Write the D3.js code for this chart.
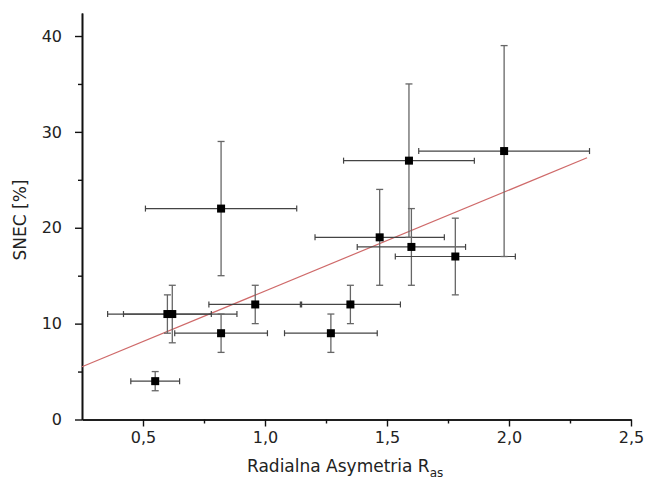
<!DOCTYPE html>
<html>
<head>
<meta charset="utf-8">
<script src="https://cdn.jsdelivr.net/npm/d3@7"></script>
<style>
  html, body { margin: 0; padding: 0; background: #fff; }
  svg { display: block; }
  text { font-family: "DejaVu Sans", sans-serif; fill: #222; }
</style>
</head>
<body>
<script>
// ---- data ----
const xValues  = [0.55, 0.60, 0.62, 0.82, 0.82, 0.96, 1.27, 1.35, 1.47, 1.59, 1.60, 1.78, 1.98];
const yValues  = [4,    11,   11,   22,   9,    12,   9,    12,   19,   27,   18,   17,   28];
const xErrors  = [0.10, 0.18, 0.265,0.31, 0.19, 0.19, 0.19, 0.205,0.265,0.268,0.222,0.246,0.35];
const yErrors  = [1,    2,    3,    7,    2,    2,    2,    2,    5,    8,    4,    4,    11];
const fitIntercept = 2.87;
const fitSlope = 10.53;
const fitRange = [0.25, 2.32];
const xMajorTicks = [0.5, 1.0, 1.5, 2.0, 2.5];
const xMinorTicks = [0.75, 1.25, 1.75, 2.25];
const yMajorTicks = [0, 10, 20, 30, 40];
const yMinorTicks = [5, 15, 25, 35];
const xTitle = "Radialna Asymetria R";
const xTitleSub = "as";
const yTitle = "SNEC [%]";

// ---- layout ----
const W = 657, H = 479;
const svg = d3.select("body").append("svg").attr("width", W).attr("height", H);

const x = d3.scaleLinear().domain([0.25, 2.5]).range([82, 631]);
const y = d3.scaleLinear().domain([0, 42.4]).range([419.5, 13]);
const fmt = d => d3.format(".1f")(d).replace(".", ",");

// axes
const xAxis = svg.append("g").attr("transform", `translate(0,${y(0)})`)
  .call(d3.axisBottom(x).tickValues(xMajorTicks).tickFormat(fmt).tickSize(7).tickPadding(5).tickSizeOuter(0));
const xMinor = svg.append("g").attr("transform", `translate(0,${y(0)})`)
  .call(d3.axisBottom(x).tickValues(xMinorTicks).tickFormat("").tickSize(4).tickSizeOuter(0));
const yAxis = svg.append("g").attr("transform", `translate(${x(0.25)},0)`)
  .call(d3.axisLeft(y).tickValues(yMajorTicks).tickFormat(d3.format("d")).tickSize(7).tickPadding(13).tickSizeOuter(0));
const yMinor = svg.append("g").attr("transform", `translate(${x(0.25)},0)`)
  .call(d3.axisLeft(y).tickValues(yMinorTicks).tickFormat("").tickSize(4).tickSizeOuter(0));

[xAxis, xMinor, yAxis, yMinor].forEach(g => {
  g.select(".domain").attr("stroke", "#111").attr("stroke-width", 1.6);
  g.selectAll(".tick line").attr("stroke", "#111").attr("stroke-width", 1.4);
  g.selectAll(".tick text").attr("font-size", 16).attr("fill", "#222")
    .attr("font-family", "'DejaVu Sans', sans-serif");
});

// titles
const xt = svg.append("text").attr("x", 247).attr("y", 472).attr("font-size", 17);
xt.append("tspan").text(xTitle);
xt.append("tspan").attr("font-size", 12).attr("dy", 5).text(xTitleSub);

svg.append("text")
  .attr("transform", `translate(26,220) rotate(-90)`)
  .attr("text-anchor", "middle").attr("font-size", 17).text(yTitle);

// fit line
svg.append("line")
  .attr("x1", x(fitRange[0])).attr("y1", y(fitIntercept + fitSlope * fitRange[0]))
  .attr("x2", x(fitRange[1])).attr("y2", y(fitIntercept + fitSlope * fitRange[1]))
  .attr("stroke", "#cf6a6a").attr("stroke-width", 1.2);

// data with error bars
const pts = xValues.map((v, i) => ({ x: v, y: yValues[i], ex: xErrors[i], ey: yErrors[i] }));
const g = svg.append("g");
const cap = 3;
pts.forEach(p => {
  const cx = x(p.x), cy = y(p.y);
  const xl = x(p.x - p.ex), xr = x(p.x + p.ex);
  const yt = y(p.y + p.ey), yb = y(p.y - p.ey);
  // horizontal
  g.append("line").attr("x1", xl).attr("x2", xr).attr("y1", cy).attr("y2", cy)
    .attr("stroke", "#444").attr("stroke-width", 1.2);
  [xl, xr].forEach(xx => g.append("line").attr("x1", xx).attr("x2", xx)
    .attr("y1", cy - cap).attr("y2", cy + cap).attr("stroke", "#444").attr("stroke-width", 1.2));
  // vertical
  g.append("line").attr("x1", cx).attr("x2", cx).attr("y1", yt).attr("y2", yb)
    .attr("stroke", "#666").attr("stroke-width", 1.3);
  [yt, yb].forEach(yy => g.append("line").attr("y1", yy).attr("y2", yy)
    .attr("x1", cx - cap - 0.5).attr("x2", cx + cap + 0.5).attr("stroke", "#666").attr("stroke-width", 1.3));
});
g.selectAll("rect.pt").data(pts).enter().append("rect").attr("class", "pt")
  .attr("x", d => x(d.x) - 4).attr("y", d => y(d.y) - 4)
  .attr("width", 8).attr("height", 8).attr("fill", "#000");
</script>
</body>
</html>
